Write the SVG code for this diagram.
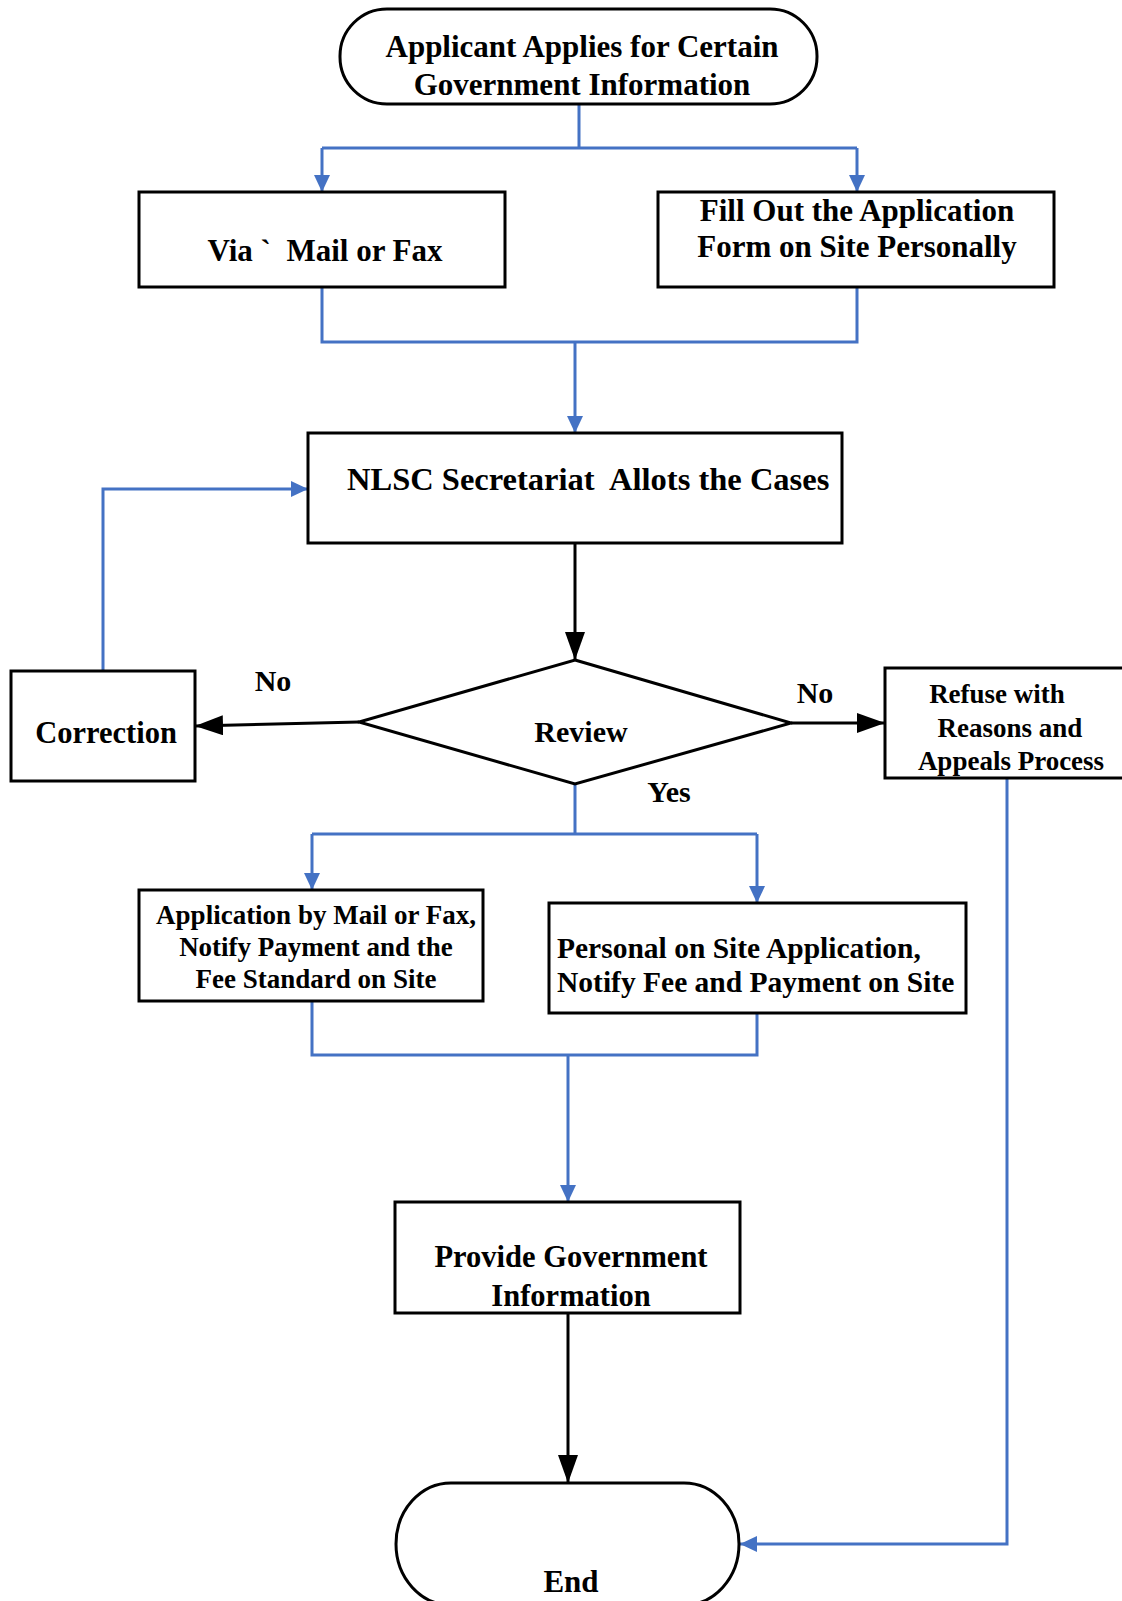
<svg xmlns="http://www.w3.org/2000/svg" width="1122" height="1601" viewBox="0 0 1122 1601">
<style>
.box{fill:#fff;stroke:#000;stroke-width:3}
.t{font-family:"Liberation Serif","Times New Roman",serif;font-weight:bold;fill:#000}
.blue{fill:none;stroke:#4472C4;stroke-width:3}
.blk{fill:none;stroke:#000;stroke-width:3}
</style>
<defs>
<marker id="ab" markerUnits="userSpaceOnUse" markerWidth="18" markerHeight="16" refX="17" refY="8" orient="auto">
<path d="M0,0 L17,8 L0,16 Z" fill="#4472C4"/>
</marker>
<marker id="ak" markerUnits="userSpaceOnUse" markerWidth="28" markerHeight="20" refX="28" refY="10" orient="auto">
<path d="M0,0 L28,10 L0,20 Z" fill="#000"/>
</marker>
</defs>
<g id="connectors">
<path class="blue" d="M579,104 V148 M322,148 H857" />
<path class="blue" d="M322,148 V192" marker-end="url(#ab)"/>
<path class="blue" d="M857,148 V192" marker-end="url(#ab)"/>
<path class="blue" d="M322,287 V342 H857 V287"/>
<path class="blue" d="M575,342 V433" marker-end="url(#ab)"/>
<path class="blk" d="M575,543 V660" marker-end="url(#ak)"/>
<path class="blk" d="M359,722 L195,726" marker-end="url(#ak)"/>
<path class="blk" d="M791,723 H885" marker-end="url(#ak)"/>
<path class="blue" d="M103,671 V489 H308" marker-end="url(#ab)"/>
<path class="blue" d="M575,784 V834 M312,834 H757"/>
<path class="blue" d="M312,834 V890" marker-end="url(#ab)"/>
<path class="blue" d="M757,834 V903" marker-end="url(#ab)"/>
<path class="blue" d="M312,1000 V1055 H757 V1013"/>
<path class="blue" d="M568,1055 V1202" marker-end="url(#ab)"/>
<path class="blk" d="M568,1313 V1483" marker-end="url(#ak)"/>
<path class="blue" d="M1007,778 V1544 H740" marker-end="url(#ab)"/>
</g>
<g id="start">
<rect class="box" x="340" y="9" width="477" height="95" rx="47" ry="47"/>
<text class="t" font-size="31" text-anchor="middle" x="582" y="57">Applicant Applies for Certain</text>
<text class="t" font-size="31" text-anchor="middle" x="582" y="95">Government Information</text>
</g>
<g id="mailfax">
<rect class="box" x="139" y="192" width="366" height="95"/>
<text class="t" font-size="31" text-anchor="middle" x="325" y="261" xml:space="preserve">Via `  Mail or Fax</text>
</g>
<g id="fillout">
<rect class="box" x="658" y="192" width="396" height="95"/>
<text class="t" font-size="31" text-anchor="middle" x="857" y="221">Fill Out the Application</text>
<text class="t" font-size="31" text-anchor="middle" x="857" y="257">Form on Site Personally</text>
</g>
<g id="nlsc">
<rect class="box" x="308" y="433" width="534" height="110"/>
<text class="t" font-size="32.5" x="347" y="490" xml:space="preserve">NLSC Secretariat  Allots the Cases</text>
</g>
<g id="review">
<polygon class="box" points="575,660 791,723 575,784 359,722"/>
<text class="t" font-size="30" text-anchor="middle" x="581" y="742">Review</text>
</g>
<g id="correction">
<rect class="box" x="11" y="671" width="184" height="110"/>
<text class="t" font-size="30.5" text-anchor="middle" x="106" y="743">Correction</text>
</g>
<g id="refuse">
<rect class="box" x="885" y="668" width="245" height="110"/>
<text class="t" font-size="27" text-anchor="middle" x="997" y="703">Refuse with</text>
<text class="t" font-size="27" text-anchor="middle" x="1010" y="737">Reasons and</text>
<text class="t" font-size="27" text-anchor="middle" x="1011" y="770">Appeals Process</text>
</g>
<g id="labels">
<text class="t" font-size="30" text-anchor="middle" x="273" y="691">No</text>
<text class="t" font-size="30" text-anchor="middle" x="815" y="703">No</text>
<text class="t" font-size="30" text-anchor="middle" x="669" y="802">Yes</text>
</g>
<g id="mailnotify">
<rect class="box" x="139" y="890" width="344" height="111"/>
<text class="t" font-size="27" text-anchor="middle" x="316" y="924">Application by Mail or Fax,</text>
<text class="t" font-size="27" text-anchor="middle" x="316" y="956">Notify Payment and the</text>
<text class="t" font-size="27" text-anchor="middle" x="316" y="988">Fee Standard on Site</text>
</g>
<g id="sitenotify">
<rect class="box" x="549" y="903" width="417" height="110"/>
<text class="t" font-size="29.5" x="557" y="958">Personal on Site Application,</text>
<text class="t" font-size="29.5" x="557" y="992">Notify Fee and Payment on Site</text>
</g>
<g id="provide">
<rect class="box" x="395" y="1202" width="345" height="111"/>
<text class="t" font-size="30.5" text-anchor="middle" x="571" y="1267">Provide Government</text>
<text class="t" font-size="30.5" text-anchor="middle" x="571" y="1306">Information</text>
</g>
<g id="end">
<path class="box" d="M451,1483 H684 A55,61 0 0 1 739,1544 A55,61 0 0 1 684,1605 H451 A55,61 0 0 1 396,1544 A55,61 0 0 1 451,1483 Z"/>
<text class="t" font-size="31" text-anchor="middle" x="571" y="1592">End</text>
</g>
</svg>
